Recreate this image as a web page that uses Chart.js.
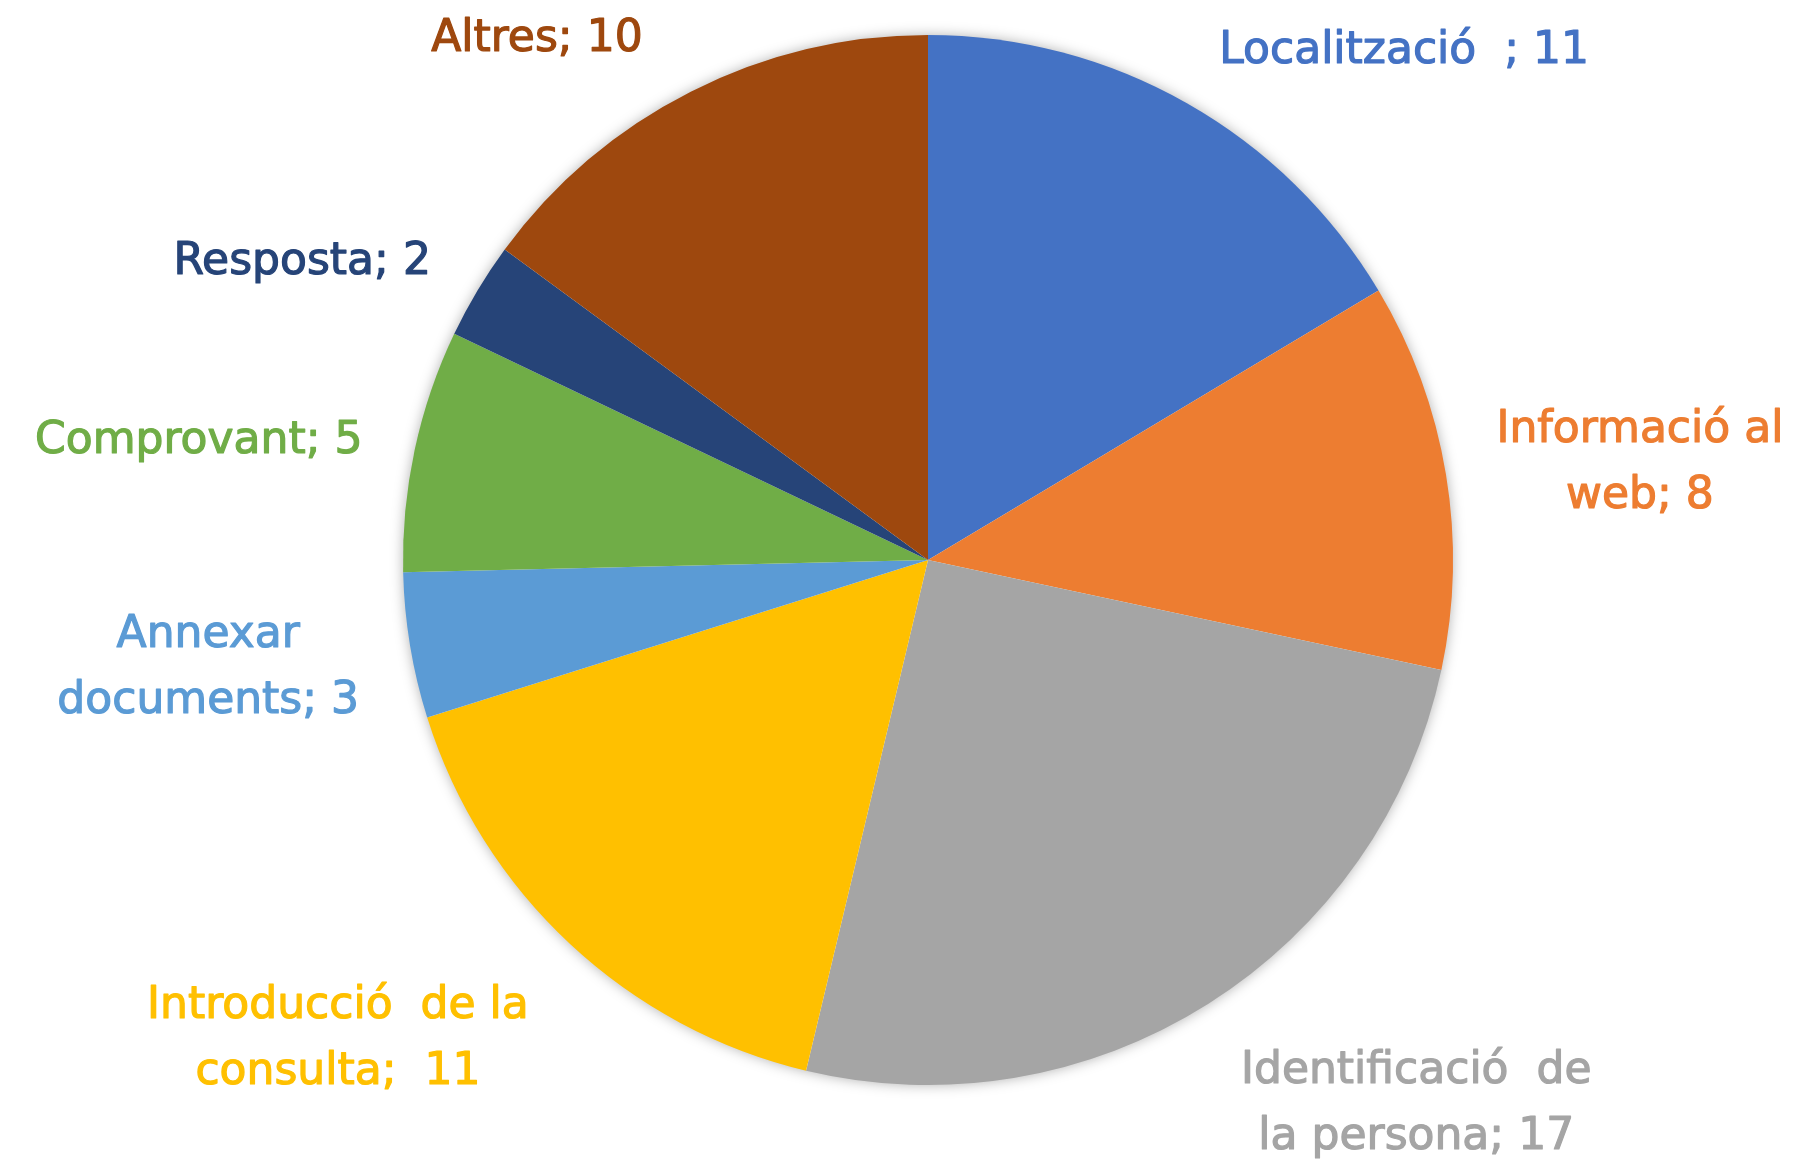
<!DOCTYPE html>
<html>
<head>
<meta charset="utf-8">
<script src="https://cdn.jsdelivr.net/npm/chart.js@4/dist/chart.umd.min.js"></script>
<style>
  html, body { margin: 0; padding: 0; background: #ffffff; }
  #wrap { width: 1803px; height: 1162px; }
</style>
</head>
<body>
<div id="wrap"><canvas id="c" width="1803" height="1162"></canvas></div>
<script>
// ---- data ----
const categories = [
  'Localització ', 'Informació al web', 'Identificació de la persona',
  'Introducció de la consulta', 'Annexar documents', 'Comprovant',
  'Resposta', 'Altres'
];
const values = [11, 8, 17, 11, 3, 5, 2, 10];
// label lines as shown in the picture
const labelLines = [
  ['Localització  ; 11'],
  ['Informació al', 'web; 8'],
  ['Identificació  de', 'la persona; 17'],
  ['Introducció  de la', 'consulta;  11'],
  ['Annexar', 'documents; 3'],
  ['Comprovant; 5'],
  ['Resposta; 2'],
  ['Altres; 10']
];

// ---- style ----
const colors = ['#4472C4', '#ED7D31', '#A5A5A5', '#FFC000', '#5B9BD5', '#70AD47', '#264478', '#9E480E'];
// label block centres relative to pie centre, in units of the radius
const labelOffsets = [
  [0.907, -0.977], [1.356, -0.192], [0.930, 1.029], [-1.124, 0.906],
  [-1.371, 0.199], [-1.389, -0.234], [-1.192, -0.575], [-0.745, -0.998]
];

const shadowPlugin = {
  id: 'pieShadow',
  beforeDatasetsDraw(chart) {
    const arc = chart.getDatasetMeta(0).data[0];
    if (!arc) return;
    const ctx = chart.ctx;
    ctx.save();
    ctx.shadowColor = 'rgba(0,0,0,0.35)';
    ctx.shadowBlur = 14;
    ctx.fillStyle = '#ffffff';
    ctx.beginPath();
    ctx.arc(arc.x, arc.y, arc.outerRadius - 1, 0, Math.PI * 2);
    ctx.fill();
    ctx.restore();
  }
};

const labelPlugin = {
  id: 'outsideLabels',
  afterDatasetsDraw(chart) {
    const meta = chart.getDatasetMeta(0);
    const ctx = chart.ctx;
    ctx.save();
    ctx.font = '44px "DejaVu Sans", sans-serif';
    ctx.textAlign = 'center';
    ctx.textBaseline = 'middle';
    ctx.lineWidth = 1.2;
    ctx.lineJoin = 'round';
    meta.data.forEach((arc, i) => {
      const r = arc.outerRadius;
      const cx = arc.x + labelOffsets[i][0] * r;
      const cy = arc.y + labelOffsets[i][1] * r + 4;
      const lines = labelLines[i];
      const lh = 66;
      const y0 = cy - (lines.length - 1) * lh / 2;
      ctx.fillStyle = colors[i];
      ctx.strokeStyle = colors[i];
      lines.forEach((t, k) => {
        ctx.fillText(t, cx, y0 + k * lh);
        ctx.strokeText(t, cx, y0 + k * lh);
      });
    });
    ctx.restore();
  }
};

new Chart(document.getElementById('c'), {
  type: 'pie',
  data: {
    labels: categories,
    datasets: [{
      data: values,
      backgroundColor: colors,
      borderWidth: 0
    }]
  },
  options: {
    responsive: false,
    devicePixelRatio: 1,
    animation: false,
    layout: { padding: { top: 35, bottom: 77, left: 300, right: 247 } },
    plugins: {
      legend: { display: false },
      tooltip: { enabled: false }
    }
  },
  plugins: [shadowPlugin, labelPlugin]
});
</script>
</body>
</html>
